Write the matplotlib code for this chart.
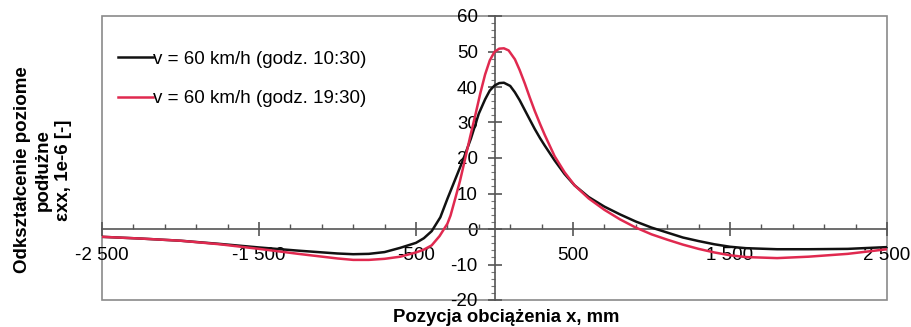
import matplotlib
matplotlib.use("Agg")
import matplotlib.pyplot as plt
from matplotlib.patches import Rectangle
from matplotlib.ticker import FixedLocator, FixedFormatter
import numpy as np

plt.rcParams['font.family'] = ['Liberation Sans', 'DejaVu Sans']

# Data
x_black = [-2500, -2250, -2000, -1750, -1500, -1250, -1000, -900, -800, -700, -600, -500,
           -450, -400, -345, -300, -250, -200, -150, -100, -60, -30, 0, 30, 60, 100, 130,
           160, 193, 225, 256, 290, 320, 383, 446, 510, 600, 700, 800, 900, 1000, 1100,
           1200, 1300, 1400, 1500, 1600, 1800, 2000, 2250, 2500]
y_black = [-2.2, -2.7, -3.3, -4.2, -5.2, -6.1, -6.9, -7.1, -7.0, -6.5, -5.3, -3.9,
           -2.6, -0.6, 3.3, 8.5, 14.0, 19.5, 25.5, 32.5, 36.5, 39.0, 40.4, 41.1, 41.2, 40.3, 38.5,
           36.3, 33.5, 30.8, 28.2, 25.6, 23.5, 19.3, 15.5, 12.3, 9.0, 6.3, 4.1, 2.1, 0.4, -1.0,
           -2.4, -3.4, -4.3, -5.0, -5.4, -5.7, -5.7, -5.6, -5.1]

x_red = [-2500, -2250, -2000, -1750, -1500, -1250, -1000, -900, -800, -700, -600, -500,
         -450, -400, -350, -300, -280, -250, -220, -190, -155, -120, -90, -60, -30, 0,
         30, 60, 90, 130, 160, 193, 225, 256, 290, 320, 383, 446, 510, 600, 700, 800,
         900, 1000, 1100, 1200, 1300, 1400, 1500, 1600, 1800, 2000, 2250, 2500]
y_red = [-2.2, -2.7, -3.3, -4.3, -5.6, -7.0, -8.3, -8.7, -8.7, -8.4, -7.8, -6.6,
         -5.8, -4.6, -2.0, 1.5, 3.8, 8.6, 13.5, 19.2, 26.0, 32.5, 38.3, 43.5, 47.5, 49.9,
         50.8, 50.9, 50.3, 47.8, 44.8, 41.0, 37.0, 33.3, 29.6, 26.5, 20.5, 16.0, 12.3, 8.6, 5.4, 2.7,
         0.4, -1.5, -3.0, -4.4, -5.6, -6.6, -7.4, -7.9, -8.2, -7.8, -7.0, -5.7]

labels = ["v = 60 km/h (godz. 10:30)", "v = 60 km/h (godz. 19:30)"]
x_ticks = [-2500, -1500, -500, 500, 1500, 2500]
x_ticklabels = ["-2 500", "-1 500", "-500", "500", "1 500", "2 500"]
y_ticks = [-20, -10, 0, 10, 20, 30, 40, 50, 60]
y_ticklabels = ["-20", "-10", "0", "10", "20", "30", "40", "50", "60"]

fig = plt.figure(figsize=(9.11, 3.27), dpi=100)
ax = fig.add_axes([102/911, 1-300/327, 785/911, 284/327])
ax.set_xlim(-2500, 2500)
ax.set_ylim(-20, 60)

ax.plot(x_black, y_black, color='#111111', lw=1.8, label=labels[0], zorder=3,
        solid_joinstyle='round')
ax.plot(x_red, y_red, color='#e0294f', lw=1.8, label=labels[1], zorder=3,
        solid_joinstyle='round')

for s in ['top', 'right']:
    ax.spines[s].set_visible(False)
ax.spines['left'].set_position(('data', 0))
ax.spines['bottom'].set_position(('data', 0))
for s in ['left', 'bottom']:
    ax.spines[s].set_color('#555555')
    ax.spines[s].set_linewidth(1.2)
ax.add_patch(Rectangle((0, 0), 1, 1, transform=ax.transAxes, fill=False,
                       edgecolor='#8a8a8a', lw=1.2, zorder=1, clip_on=False))

ax.xaxis.set_major_locator(FixedLocator(x_ticks))
ax.xaxis.set_major_formatter(FixedFormatter(x_ticklabels))
ax.xaxis.set_minor_locator(FixedLocator(np.arange(-2500, 2501, 200)))
ax.yaxis.set_major_locator(FixedLocator(y_ticks))
ax.yaxis.set_major_formatter(FixedFormatter(y_ticklabels))
ax.yaxis.set_minor_locator(FixedLocator(np.arange(-20, 61, 2)))

ax.tick_params(axis='x', which='major', direction='inout', length=10, width=1.2,
               color='#555555', labelsize=13.5, pad=8)
ax.tick_params(axis='x', which='minor', direction='in', length=3.5, width=1.0, color='#555555')
ax.tick_params(axis='y', which='major', direction='inout', length=10, width=1.2,
               color='#555555', labelsize=13.5, pad=7)
ax.tick_params(axis='y', which='minor', direction='out', length=3, width=0.8, color='#777777')

leg = ax.legend(loc='upper left', bbox_to_anchor=(0.0204, 0.878), frameon=False,
                fontsize=13.5, handlelength=1.85, handletextpad=0.0, labelspacing=1.2,
                borderaxespad=0, borderpad=0)

fig.text(43/911, 1-170/327, "Odkształcenie poziome\npodłużne\nεxx, 1e-6 [-]",
         rotation=90, ha='center', va='center', multialignment='center',
         fontsize=13.5, fontweight='bold', linespacing=1.25)
fig.text(506/911, 1-322/327, "Pozycja obciążenia x, mm", ha='center', va='baseline',
         fontsize=13.3, fontweight='bold')

fig.savefig("out.png", dpi=100)
